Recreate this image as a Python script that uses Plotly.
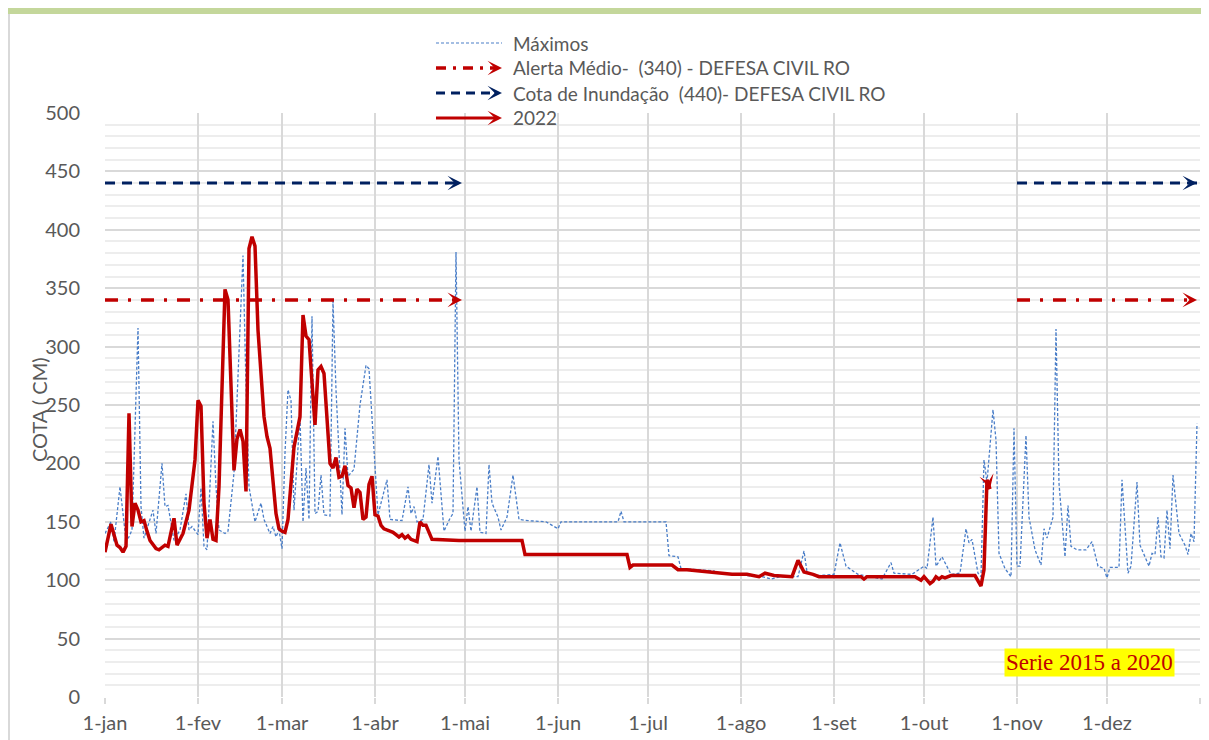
import pandas as pd
import plotly.graph_objects as go

# ── Data (day of year counted from 1-jan, cota in cm) ────────────
BASE = pd.Timestamp("2022-01-01")

dias_2022 = [0, 2, 4, 5, 6, 7, 8, 9, 10, 11, 12, 13, 14, 15, 17, 18, 20, 21, 23, 24,
             26, 28, 30, 31, 32, 33, 34, 35, 36, 37, 38, 40, 41, 42, 43, 44, 45, 46, 47, 48,
             49, 50, 51, 53, 54, 55, 57, 58, 59, 60, 61, 63, 65, 66, 67, 68, 70, 71, 72, 73,
             75, 76, 77, 78, 79, 80, 81, 82, 83, 84, 85, 86, 87, 88, 89, 90, 91, 92, 93, 95,
             96, 97, 98, 99, 100, 101, 102, 104, 105, 106, 107, 109, 118, 139, 140, 174, 175, 176, 189, 191,
             194, 209, 214, 218, 220, 223, 229, 231, 233, 236, 238, 252, 253, 254, 270, 272, 273, 275, 276, 277,
             278, 279, 280, 282, 290, 292, 293, 294, 295]
cota_2022 = [124, 148, 130, 128, 124, 129, 243, 146, 166, 160, 150, 151, 142, 134, 127, 126, 130, 129, 153, 130,
             140, 160, 203, 254, 249, 166, 136, 152, 135, 134, 180, 349, 340, 266, 194, 221, 229, 219, 176, 384,
             394, 386, 314, 240, 223, 213, 157, 144, 142, 141, 152, 214, 240, 327, 309, 306, 233, 280, 283, 277,
             200, 196, 205, 188, 189, 198, 181, 179, 162, 178, 175, 152, 154, 182, 189, 156, 155, 147, 144, 142,
             141, 139, 137, 139, 136, 138, 135, 133, 150, 147, 147, 135, 134, 134, 122, 122, 111, 113, 113, 109,
             109, 105, 105, 103, 106, 104, 103, 117, 107, 105, 103, 103, 101, 103, 103, 100, 103, 97, 99, 103,
             101, 103, 102, 104, 104, 95, 109, 186, 178]

dias_max = [0, 2, 3, 5, 6, 7, 8, 9, 11, 12, 13, 16, 17, 19, 20, 21, 23, 25, 27, 28,
            29, 31, 32, 33, 34, 36, 37, 38, 40, 41, 43, 46, 47, 48, 50, 52, 53, 55, 56, 57,
            58, 59, 60, 61, 62, 63, 65, 66, 67, 68, 69, 70, 71, 72, 73, 75, 76, 77, 79, 80,
            81, 83, 85, 87, 88, 90, 91, 94, 95, 99, 101, 102, 103, 104, 106, 108, 109, 111, 113, 115,
            116, 117, 118, 120, 121, 122, 124, 125, 127, 128, 129, 131, 132, 134, 136, 138, 141, 147, 151, 152,
            171, 172, 173, 187, 188, 191, 192, 203, 204, 219, 222, 225, 231, 233, 234, 238, 243, 245, 247, 251,
            259, 262, 263, 269, 273, 274, 276, 277, 279, 282, 285, 287, 288, 289, 291, 292, 293, 294, 296, 297,
            298, 300, 302, 303, 304, 305, 307, 308, 310, 312, 313, 314, 316, 317, 318, 320, 321, 322, 324, 327,
            329, 331, 333, 334, 335, 338, 339, 341, 342, 344, 345, 348, 349, 350, 351, 352, 353, 354, 355, 356,
            358, 360, 361, 362, 363, 364]
cota_max = [140, 150, 133, 180, 157, 134, 137, 143, 316, 163, 136, 160, 140, 200, 163, 164, 134, 143, 174, 143,
            146, 139, 179, 129, 126, 236, 180, 143, 140, 142, 192, 378, 266, 180, 150, 166, 152, 140, 146, 137,
            143, 127, 209, 263, 254, 160, 240, 150, 196, 152, 326, 157, 159, 190, 156, 155, 339, 263, 156, 230,
            189, 195, 250, 284, 281, 194, 156, 186, 152, 151, 180, 157, 163, 150, 152, 199, 166, 206, 142, 153,
            157, 381, 203, 142, 163, 142, 180, 141, 140, 199, 166, 154, 143, 154, 190, 152, 151, 150, 144, 150,
            150, 159, 150, 150, 121, 120, 110, 108, 106, 103, 101, 103, 103, 125, 107, 104, 105, 132, 112, 105,
            101, 115, 106, 105, 112, 110, 154, 112, 120, 105, 106, 144, 132, 135, 106, 103, 203, 184, 246, 220,
            123, 110, 103, 230, 112, 112, 224, 154, 126, 113, 144, 136, 154, 315, 183, 120, 164, 129, 126, 126,
            133, 112, 110, 102, 111, 111, 186, 106, 112, 184, 130, 112, 123, 122, 154, 120, 119, 160, 127, 190,
            140, 130, 122, 140, 133, 234]

alerta_x = ["2022-01-01", "2022-04-30", None, "2022-11-01", "2022-12-31"]
alerta_y = [340, 340, None, 340, 340]
inund_x = ["2022-01-01", "2022-04-30", None, "2022-11-01", "2022-12-31"]
inund_y = [440, 440, None, 440, 440]

meses_vals = ["2022-01-01", "2022-02-01", "2022-03-01", "2022-04-01", "2022-05-01", "2022-06-01",
              "2022-07-01", "2022-08-01", "2022-09-01", "2022-10-01", "2022-11-01", "2022-12-01",
              "2023-01-01"]
meses_txt = ["1-jan", "1-fev", "1-mar", "1-abr", "1-mai", "1-jun",
             "1-jul", "1-ago", "1-set", "1-out", "1-nov", "1-dez", ""]

# ── Styles ───────────────────────────
RED = "#c00000"
NAVY = "#002060"
BLUE = "#4a7ec8"
GRAY_TXT = "#595959"
GRID = "#d9d9d9"
FONT = "Lato"

# page offset of the figure (body margin) and figure size
OFF = 8
W, H = 1201, 732
L, R, T, B = 97, 9, 105, 43
PW, PH = W - L - R, H - T - B


def px_x(p):   # page pixel -> paper
    return (p - OFF - L) / PW


def px_y(p):
    return (H - B - (p - OFF)) / PH


def to_dates(days):
    return BASE + pd.to_timedelta(days, unit="D")


fig = go.Figure()

fig.add_trace(go.Scatter(
    x=to_dates(dias_max), y=cota_max, mode="lines", name="Máximos",
    line=dict(color=BLUE, width=1.3, dash="3px,2px"),
))
fig.add_trace(go.Scatter(
    x=alerta_x, y=alerta_y, mode="lines", name="Alerta Médio-  (340) - DEFESA CIVIL RO",
    line=dict(color=RED, width=3.5, dash="13px,10px,3px,10px"), connectgaps=False,
))
fig.add_trace(go.Scatter(
    x=inund_x, y=inund_y, mode="lines", name="Cota de Inundação  (440)- DEFESA CIVIL RO",
    line=dict(color=NAVY, width=3, dash="10px,7px"), connectgaps=False,
))
fig.add_trace(go.Scatter(
    x=to_dates(dias_2022), y=cota_2022, mode="lines", name="2022",
    line=dict(color=RED, width=3.5),
))


def arrow(x, y, color, ax=-8, ay=0, xref="x", yref="y"):
    return dict(x=x, y=y, xref=xref, yref=yref, ax=ax, ay=ay, text="",
                showarrow=True, arrowhead=3, arrowsize=1.1, arrowwidth=2.2,
                arrowcolor=color, standoff=0)


annotations = []
# arrowheads at the end of each line piece
for xs, ys, clr in [(alerta_x, alerta_y, RED), (inund_x, inund_y, NAVY)]:
    annotations.append(arrow(xs[1], ys[1], clr))
    annotations.append(arrow(xs[-1], ys[-1], clr))
annotations.append(arrow(to_dates([dias_2022[-1]])[0], cota_2022[-1], RED, ax=-2, ay=-8))

# ── custom legend ────────────────────
shapes = []
leg_x0, leg_x1, leg_txt = px_x(436), px_x(502), px_x(511)
legend_rows = [
    ("Máximos", BLUE, 1.2, "3px,2px", None),
    ("Alerta Médio-  (340) - DEFESA CIVIL RO", RED, 3.5, "10px,7px,3px,7px", RED),
    ("Cota de Inundação  (440)- DEFESA CIVIL RO", NAVY, 3, "9px,6px", NAVY),
    ("2022", RED, 3, None, RED),
]
for i, (txt, clr, wd, dash, head) in enumerate(legend_rows):
    yy = px_y(43 + 25 * i)
    line = dict(color=clr, width=wd)
    if dash:
        line["dash"] = dash
    shapes.append(dict(type="line", xref="paper", yref="paper",
                       x0=leg_x0, x1=leg_x1 - (0.006 if head else 0), y0=yy, y1=yy, line=line))
    if head:
        annotations.append(arrow(leg_x1, yy, head, xref="paper", yref="paper"))
    annotations.append(dict(x=leg_txt, y=yy, xref="paper", yref="paper", text=txt,
                            showarrow=False, xanchor="left", yanchor="middle",
                            font=dict(family=FONT, size=19, color=GRAY_TXT)))

# y axis title
annotations.append(dict(x=px_x(39), y=px_y(410), xref="paper", yref="paper",
                        text="COTA ( CM)", textangle=-90, showarrow=False,
                        xanchor="center", yanchor="middle",
                        font=dict(family=FONT, size=20, color=GRAY_TXT)))

# series label box
annotations.append(dict(x=px_x(1089), y=px_y(662), xref="paper", yref="paper",
                        text="Serie 2015 a 2020", showarrow=False, bgcolor="#ffff00",
                        xanchor="center", yanchor="middle", borderpad=1,
                        font=dict(family="Liberation Serif", size=23, color=RED)))

# frame: green band on top, grey line on the left
shapes.append(dict(type="rect", xref="paper", yref="paper", layer="below",
                   x0=px_x(OFF), x1=px_x(OFF + W), y0=px_y(OFF + 6), y1=px_y(OFF),
                   fillcolor="#c4d79b", line=dict(width=0)))
shapes.append(dict(type="line", xref="paper", yref="paper", layer="below",
                   x0=px_x(OFF + 1), x1=px_x(OFF + 1), y0=px_y(OFF + 6), y1=px_y(OFF + H),
                   line=dict(color=GRID, width=2)))

fig.update_layout(
    width=W, height=H,
    margin=dict(l=L, r=R, t=T, b=B, autoexpand=False),
    paper_bgcolor="white", plot_bgcolor="white",
    showlegend=False,
    annotations=annotations,
    shapes=shapes,
    font=dict(family=FONT, color=GRAY_TXT),
)
fig.update_xaxes(
    type="date", range=["2022-01-01", "2023-01-01"],
    tickmode="array", tickvals=meses_vals, ticktext=meses_txt,
    showgrid=True, gridcolor=GRID, gridwidth=2,
    ticks="outside", ticklen=6, tickcolor=GRID, tickwidth=2,
    tickfont=dict(family=FONT, size=20, color=GRAY_TXT),
    ticklabelstandoff=2, automargin=False,
    zeroline=False, showline=False,
)
fig.update_yaxes(
    range=[0, 500], dtick=50,
    showgrid=True, gridcolor=GRID, gridwidth=2,
    minor=dict(dtick=10, showgrid=True, gridcolor="#ededed", gridwidth=2),
    tickfont=dict(family=FONT, size=20, color=GRAY_TXT),
    ticklabelstandoff=24, automargin=False,
    zeroline=False, showline=False,
)

fig.write_html("out.html")
